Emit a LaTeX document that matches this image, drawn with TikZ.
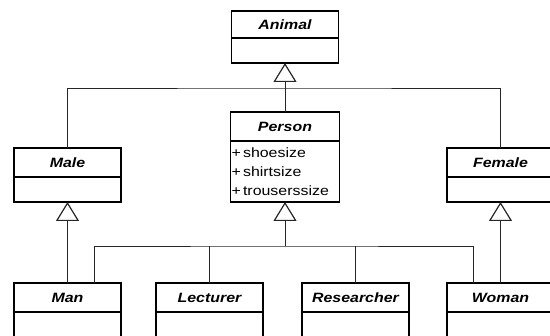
\documentclass[tikz,border=0pt]{standalone}
\usepackage{fontspec}
\newfontfamily\umlfont[FakeStretch=1.18]{Liberation Sans}
\usetikzlibrary{positioning,arrows.meta}
\tikzset{
  classname/.style={rectangle, draw, line width=1.4pt, minimum width=107pt, minimum height=29pt,
                    inner sep=0pt, outer sep=0pt, font=\umlfont\fontsize{13.5}{19}\selectfont\bfseries\itshape},
  classbody/.style={rectangle, draw, line width=1.4pt, minimum width=107pt, minimum height=25pt,
                    inner sep=0pt, outer sep=0pt},
  attrs/.style={font=\umlfont\fontsize{13.5}{19}\selectfont, align=left, text width=107pt,
                inner xsep=1pt, minimum height=61pt},
  link/.style={line width=0.9pt, draw=black!85},
  inherit/.style={link, -{Triangle[open, length=19pt, width=23pt, line width=1.2pt]}},
}

\begin{document}
\begin{tikzpicture}[x=1pt, y=1pt]
\clip (0,0) rectangle (550,-336);
\useasboundingbox (0,0) rectangle (550,-336);
%Nodes
\node[classname, minimum height=27pt] (animal) at (285,-24.5) {Animal};
\node[classbody] (animalbody) [below=0pt of animal] {};
\node[classname, minimum width=109pt] (person) at (285,-126.5) {Person};
\node[classbody, attrs, minimum width=109pt] (personbody) [below=0pt of person] {+\,shoesize\\+\,shirtsize\\+\,trouserssize};
\node[classname] (male) at (67.5,-162.5) {Male};
\node[classbody] (malebody) [below=0pt of male] {};
\node[classname] (female) at (500.5,-162.5) {Female};
\node[classbody] (femalebody) [below=0pt of female] {};
\node[classname] (man) at (67.5,-297.5) {Man};
\node[classbody] (manbody) [below=0pt of man] {};
\node[classname] (lecturer) at (209.5,-297.5) {Lecturer};
\node[classbody] (lecturerbody) [below=0pt of lecturer] {};
\node[classname] (researcher) at (355.5,-297.5) {Researcher};
\node[classbody] (researcherbody) [below=0pt of researcher] {};
\node[classname] (woman) at (500.5,-297.5) {Woman};
\node[classbody] (womanbody) [below=0pt of woman] {};
\coordinate (animalbus) at (285,-88);
\coordinate (personbus) at (285,-246);

%Lines
\draw[link] (male.north) |- (animalbus) -| (female.north);
\draw[inherit] (person.north) -- (animalbody.south);
\draw[link] ([xshift=27pt]man.north) |- (personbus) -| ([xshift=-27pt]woman.north);
\draw[link] (lecturer.north) -- (lecturer.north |- personbus);
\draw[link] (researcher.north) -- (researcher.north |- personbus);
\draw[inherit] (personbus) -- (personbody.south);
\draw[inherit] (man.north) -- (malebody.south);
\draw[inherit] (woman.north) -- (femalebody.south);
\end{tikzpicture}
\end{document}
